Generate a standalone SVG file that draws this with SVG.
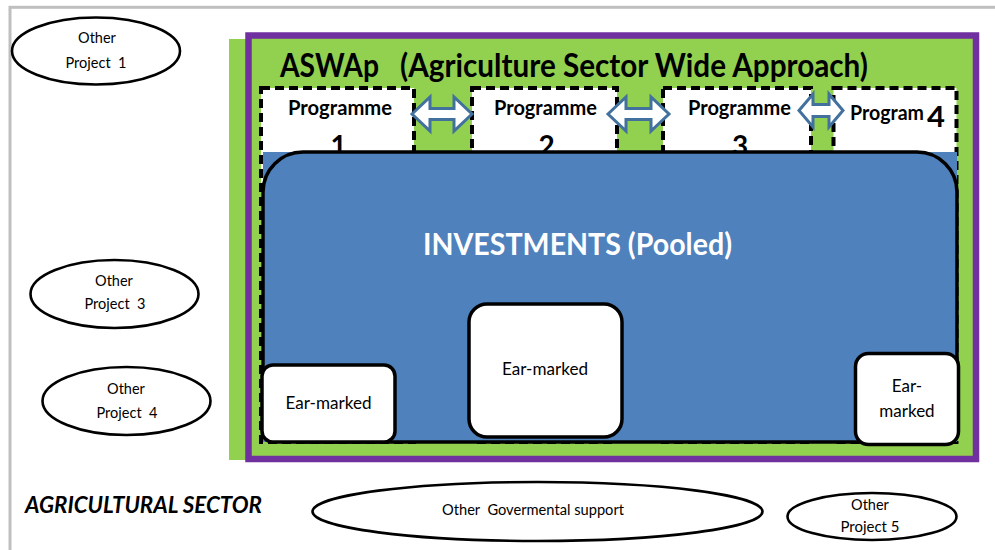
<svg xmlns="http://www.w3.org/2000/svg" width="995" height="550" viewBox="0 0 995 550">
<style>
text{font-family:Lato,"Liberation Sans",sans-serif;fill:#000;white-space:pre}
.b{font-weight:bold}
.prog{font-size:20px;font-weight:bold;text-anchor:middle}
.dig{font-size:28px;font-weight:bold;text-anchor:middle}
.pbox{fill:#fff;stroke:#000;stroke-width:4;stroke-dasharray:9 5}
.ear{fill:#fff;stroke:#000;stroke-width:3.5}
.et{font-size:17px;text-anchor:middle}
.ell{fill:#fff;stroke:#000;stroke-width:2.6}
.ot{font-size:14.5px;text-anchor:middle}
.arr{fill:#fff;stroke:#41719c;stroke-width:3;stroke-linejoin:miter}
</style>
<rect x="0" y="0" width="995" height="550" fill="#fff"/>
<rect id="frame" x="10" y="7.3" width="1000" height="600" fill="none" stroke="#bfbfbf" stroke-width="3"/>

<g id="aswap">
<rect x="229" y="39" width="22" height="421" fill="#92d050"/>
<rect x="248.5" y="35.5" width="727.5" height="423.5" fill="#92d050" stroke="#7030a0" stroke-width="6.5"/>
<text class="b" x="280" y="77" font-size="32" textLength="99" lengthAdjust="spacingAndGlyphs">ASWAp</text>
<text class="b" x="400" y="77" font-size="32" textLength="468" lengthAdjust="spacingAndGlyphs">(Agriculture Sector Wide Approach)</text>
</g>

<g id="programme1">
<rect class="pbox" x="261" y="88" width="153" height="354"/>
<text class="prog" x="340" y="115" textLength="104" lengthAdjust="spacingAndGlyphs">Programme</text>
<text class="dig" x="338.5" y="156">1</text>
</g>
<g id="programme2">
<rect class="pbox" x="472" y="88" width="145" height="354"/>
<text class="prog" x="545.5" y="115" textLength="103" lengthAdjust="spacingAndGlyphs">Programme</text>
<text class="dig" x="546.5" y="156">2</text>
</g>
<g id="programme3">
<rect class="pbox" x="663" y="88" width="148" height="354"/>
<text class="prog" x="739.5" y="115" textLength="103" lengthAdjust="spacingAndGlyphs">Programme</text>
<text class="dig" x="740" y="156">3</text>
</g>
<g id="programme4">
<rect class="pbox" x="833.5" y="88" width="123" height="354"/>
<text class="b" x="850" y="120" font-size="20" textLength="74" lengthAdjust="spacingAndGlyphs">Program</text>
<text class="b" x="927" y="127" font-size="28" textLength="18" lengthAdjust="spacingAndGlyphs">4</text>
</g>

<g id="investments">
<rect x="263" y="152" width="694" height="290" fill="#4f81bd"/>
<rect x="263" y="152" width="694" height="290" rx="40" ry="40" fill="#4f81bd" stroke="#000" stroke-width="3.5"/>
<text class="b" x="577.5" y="255" font-size="31" style="fill:#fff" text-anchor="middle" textLength="309" lengthAdjust="spacingAndGlyphs">INVESTMENTS (Pooled)</text>
</g>

<g id="earmarked1">
<rect class="ear" x="262" y="365" width="133" height="77" rx="11"/>
<text class="et" x="328.5" y="409" textLength="86" lengthAdjust="spacingAndGlyphs">Ear-marked</text>
</g>
<g id="earmarked2">
<rect class="ear" x="469" y="304" width="153" height="133" rx="18"/>
<text class="et" x="545" y="375" textLength="86" lengthAdjust="spacingAndGlyphs">Ear-marked</text>
</g>
<g id="earmarked3">
<rect class="ear" x="855.5" y="353.5" width="103" height="91" rx="13"/>
<text class="et" x="907" y="392">Ear-</text>
<text class="et" x="907" y="417">marked</text>
</g>

<g id="connectors">
<path class="arr" d="M412,114 L430,97 L430,108.5 L454,108.5 L454,97 L472,114 L454,131 L454,119.5 L430,119.5 L430,131 Z"/>
<path class="arr" d="M608,114 L626,97 L626,108.5 L651,108.5 L651,97 L669,114 L651,131 L651,119.5 L626,119.5 L626,131 Z"/>
<path class="arr" d="M799,110.5 L813,94 L813,104.5 L829,104.5 L829,94 L843,110.5 L829,127 L829,116.5 L813,116.5 L813,127 Z"/>
</g>

<g id="project1">
<ellipse class="ell" cx="96" cy="51" rx="84" ry="33.5"/>
<text class="ot" x="97" y="43">Other</text>
<text class="ot" x="96" y="68" textLength="61" lengthAdjust="spacingAndGlyphs">Project  1</text>
</g>
<g id="project3">
<ellipse class="ell" cx="114.5" cy="294" rx="84" ry="34"/>
<text class="ot" x="114" y="286">Other</text>
<text class="ot" x="115" y="309" textLength="61" lengthAdjust="spacingAndGlyphs">Project  3</text>
</g>
<g id="project4">
<ellipse class="ell" cx="126.5" cy="401" rx="84" ry="34"/>
<text class="ot" x="126" y="394">Other</text>
<text class="ot" x="127" y="418" textLength="61" lengthAdjust="spacingAndGlyphs">Project  4</text>
</g>
<g id="govsupport">
<ellipse class="ell" cx="537.5" cy="511.5" rx="225" ry="29.5"/>
<text class="ot" x="533" y="515" textLength="182" lengthAdjust="spacingAndGlyphs">Other  Govermental support</text>
</g>
<g id="project5">
<ellipse class="ell" cx="872" cy="516.5" rx="84.5" ry="23.5"/>
<text class="ot" x="870" y="510">Other</text>
<text class="ot" x="870" y="532" textLength="59" lengthAdjust="spacingAndGlyphs">Project 5</text>
</g>
<g id="sector">
<text x="25" y="513" font-size="22" font-weight="bold" font-style="italic" textLength="237" lengthAdjust="spacingAndGlyphs">AGRICULTURAL SECTOR</text>
</g>
</svg>
